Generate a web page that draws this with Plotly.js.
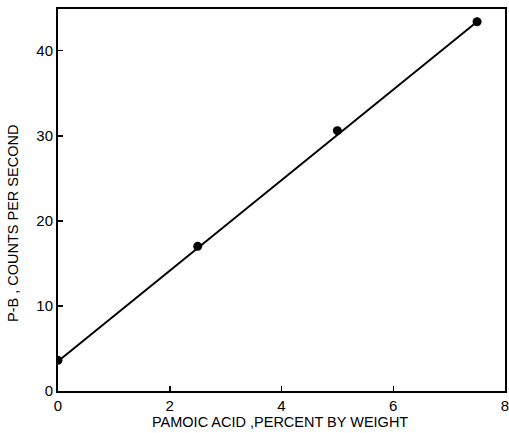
<!DOCTYPE html>
<html>
<head>
<meta charset="utf-8">
<script src="https://cdn.plot.ly/plotly-3.0.1.min.js"></script>
<style>
  html, body { margin: 0; padding: 0; background: #fff; }
  #chart { width: 509px; height: 433px; }
</style>
</head>
<body>
<div id="chart"></div>
<script>
// Measured samples: pamoic acid content vs. P-B count rate
const pamoicPercent = [0, 2.5, 5, 7.5];
const countsPerSecond = [3.6, 17.0, 30.6, 43.4];

// Fitted calibration line end points
const fitX = [0, 7.5];
const fitY = [3.5, 43.4];

const xTicks = [0, 2, 4, 6, 8];
const yTicks = [0, 10, 20, 30, 40];

const xTitle = 'PAMOIC ACID ,PERCENT BY WEIGHT';
const yTitle = 'P-B , COUNTS PER SECOND';

const traces = [
  {
    x: fitX, y: fitY, mode: 'lines', type: 'scatter',
    line: { color: '#000', width: 2 }, hoverinfo: 'skip'
  },
  {
    x: pamoicPercent, y: countsPerSecond, mode: 'markers', type: 'scatter',
    marker: { color: '#000', size: 9 }
  }
];

const axisFont = { family: 'Liberation Sans, Arial, sans-serif', size: 15, color: '#000' };
const titleFont = { family: 'Liberation Sans, Arial, sans-serif', size: 14.5, color: '#000' };

const layout = {
  width: 509, height: 433,
  margin: { l: 58, r: 4, t: 9, b: 42 },
  paper_bgcolor: '#fff', plot_bgcolor: '#fff',
  showlegend: false,
  xaxis: {
    range: [0, 8], tickvals: xTicks, ticktext: xTicks.map(String),
    ticks: 'inside', ticklen: 5, tickwidth: 1.5, tickcolor: '#000',
    showline: true, linewidth: 2, linecolor: '#000', mirror: true,
    showgrid: false, zeroline: false, tickfont: axisFont,
    ticklabeloverflow: 'allow', automargin: false
  },
  yaxis: {
    range: [0, 44.9], tickvals: yTicks, ticktext: yTicks.map(String),
    ticks: 'inside', ticklen: 5, tickwidth: 1.5, tickcolor: '#000',
    showline: true, linewidth: 2, linecolor: '#000', mirror: true,
    showgrid: false, zeroline: false, tickfont: axisFont,
    ticklabeloverflow: 'allow', automargin: false
  },
  annotations: [
    {
      text: xTitle, xref: 'paper', yref: 'paper',
      x: (280 - 58) / 447, y: -(422 - 391) / 382,
      xanchor: 'center', yanchor: 'middle', showarrow: false, font: titleFont
    },
    {
      text: yTitle, xref: 'paper', yref: 'paper', textangle: -90,
      x: (13 - 58) / 447, y: (391 - 224) / 382,
      xanchor: 'center', yanchor: 'middle', showarrow: false,
      font: { family: titleFont.family, size: 14.5, color: '#000' }
    }
  ]
};

Plotly.newPlot('chart', traces, layout, { displayModeBar: false, staticPlot: true });
</script>
</body>
</html>
